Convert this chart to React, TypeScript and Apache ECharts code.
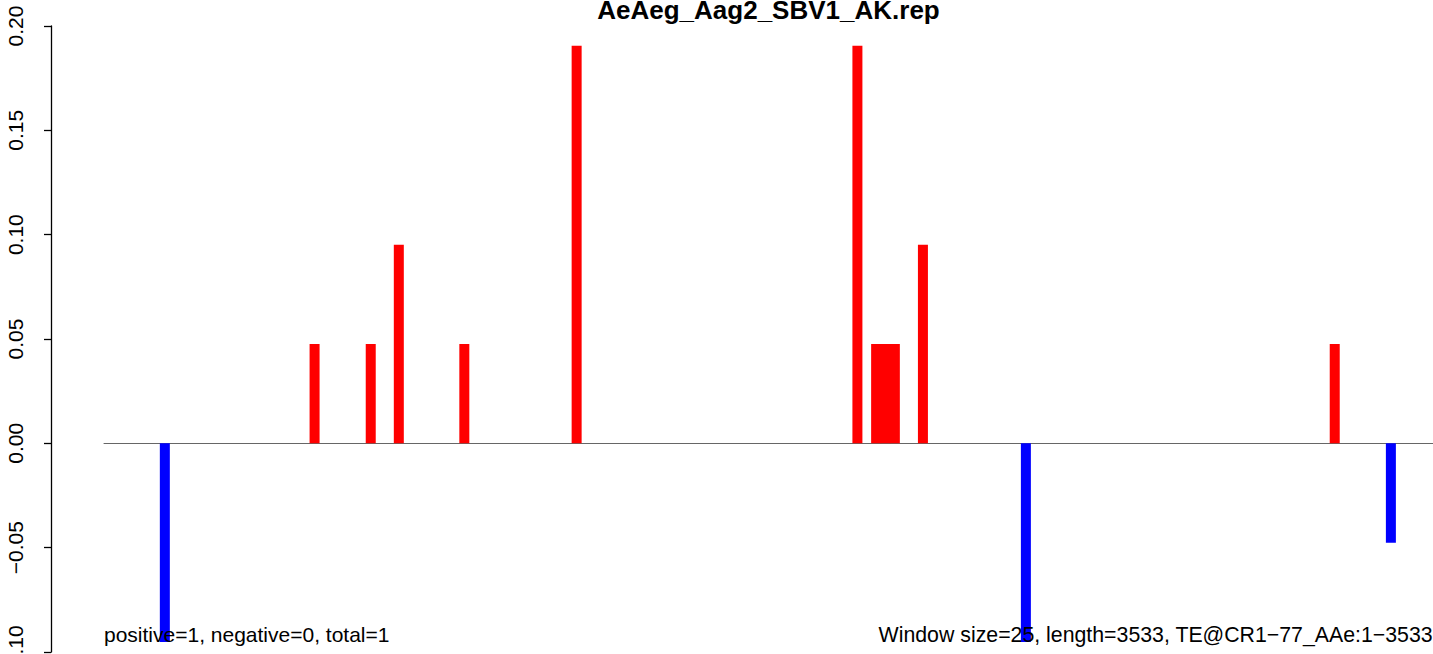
import React, { useEffect, useRef } from "react";
import * as echarts from "echarts";

const TITLE = "AeAeg_Aag2_SBV1_AK.rep";
const LEFT_NOTE = "positive=1, negative=0, total=1";
const RIGHT_NOTE = "Window size=25, length=3533, TE@CR1\u221277_AAe:1\u22123533";
const WINDOW_COUNT = 142;
const windowIndex = [6, 22, 28, 31, 38, 50, 80, 82, 83, 84, 87, 98, 131, 137];
const windowValue = [
  -0.0952, 0.0476, 0.0476, 0.0952, 0.0476, 0.1905, 0.1905, 0.0476, 0.0476, 0.0476, 0.0952, -0.0952, 0.0476,
  -0.0476,
];
const yTicks = [-0.1, -0.05, 0, 0.05, 0.1, 0.15, 0.2];

const FONT = "'Liberation Sans', Arial, Helvetica, sans-serif";

export default function App() {
  const ref = useRef<HTMLDivElement>(null);
  useEffect(() => {
    if (!ref.current) return;
    const chart = echarts.init(ref.current, undefined, { renderer: "svg" });
    const data = windowIndex.map((w, k) => ({
      value: [w + 0.5, windowValue[k]],
      itemStyle: { color: windowValue[k] >= 0 ? "#ff0000" : "#0000ff" },
    }));
    chart.setOption({
      animation: false,
      backgroundColor: "#ffffff",
      title: {
        text: TITLE,
        left: 768.5,
        top: -3,
        padding: 0,
        textAlign: "center",
        textStyle: { fontFamily: FONT, fontWeight: "bold", fontSize: 26, color: "#000" },
      },
      grid: { left: 104, right: 0, top: 26, bottom: 2, containLabel: false, outerBoundsMode: "none" },
      xAxis: {
        type: "value",
        min: 0,
        max: WINDOW_COUNT,
        axisLine: { show: true, onZero: true, lineStyle: { color: "#666666", width: 1 } },
        axisTick: { show: false },
        axisLabel: { show: false },
        splitLine: { show: false },
      },
      yAxis: {
        type: "value",
        min: -0.1,
        max: 0.2,
        interval: 0.05,
        offset: 53,
        axisLine: { show: true, onZero: false, lineStyle: { color: "#000", width: 1.3 } },
        axisTick: { show: true, length: 7, lineStyle: { color: "#000", width: 1.3 } },
        axisLabel: {
          show: true,
          rotate: 90,
          margin: 25,
          color: "#000",
          fontFamily: FONT,
          fontSize: 21,
          showMinLabel: true,
          showMaxLabel: true,
          formatter: (v: number) => {
            const t = yTicks.find((x) => Math.abs(x - v) < 1e-9);
            const val = t === undefined ? v : t;
            const s = Math.abs(val).toFixed(2);
            return val < 0 ? "\u2212" + s : s;
          },
        },
        splitLine: { show: false },
      },
      series: [
        {
          type: "bar",
          barWidth: 10,
          data,
          z: 2,
        },
      ],
      graphic: [
        {
          type: "text",
          left: 104,
          top: 624,
          z: 100,
          style: { text: LEFT_NOTE, fontFamily: FONT, fontSize: 21, fill: "#000" },
        },
        {
          type: "text",
          right: 0,
          top: 624,
          z: 100,
          style: { text: RIGHT_NOTE, fontFamily: FONT, fontSize: 21.3, fill: "#000" },
        },
      ],
    });
    return () => chart.dispose();
  }, []);
  return (
    <div
      ref={ref}
      style={{ position: "fixed", left: 0, top: 0, width: 1433, height: 654, background: "#fff" }}
    />
  );
}
